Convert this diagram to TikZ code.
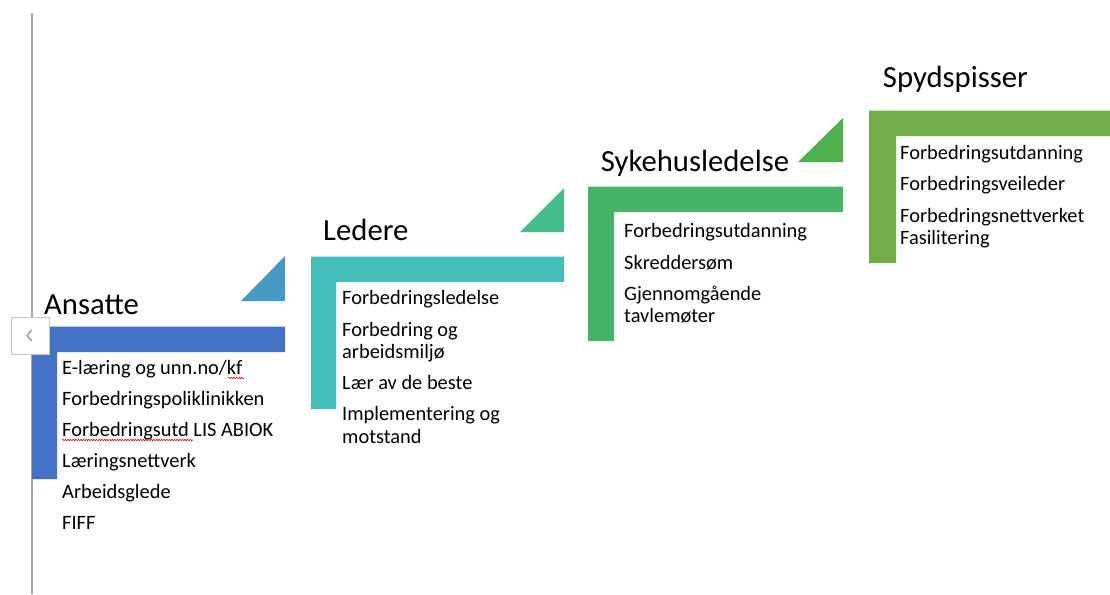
\documentclass[tikz,border=0pt]{standalone}
\usepackage{fontspec}
\setmainfont{Carlito}
\usetikzlibrary{positioning,decorations.pathmorphing}
\usepackage{xcolor}

\definecolor{ansblue}{HTML}{4472C4}
\definecolor{ansTri}{HTML}{4599C3}
\definecolor{ledTeal}{HTML}{43BEBA}
\definecolor{ledTri}{HTML}{47BD8E}
\definecolor{sykGreen}{HTML}{45B466}
\definecolor{sykTri}{HTML}{4DAF4D}
\definecolor{spyGreen}{HTML}{70AD47}

\begin{document}
\begin{tikzpicture}[
  x=1pt, y=-1pt,
  head/.style={anchor=base west, inner sep=0pt, font=\fontsize{30.7}{36}\selectfont},
  item/.style={anchor=base west, inner sep=0pt, align=left, font=\fontsize{20.4}{22.2}\selectfont},
  squig/.style={draw=red!85!black, line width=0.6pt, decorate, decoration={snake, amplitude=0.7pt, segment length=2.6pt}},
  navbox/.style={draw=black!22, fill=white, line width=0.8pt, minimum width=38pt, minimum height=37pt, inner sep=0pt}
]
\useasboundingbox (0,0) rectangle (1110,594);

% sidebar line
\draw[black!35, line width=1.2pt] (32,13) -- (32,594);

% steps
\fill[ansblue] (32,326.5) -- (285,326.5) -- (285,352) -- (57,352) -- (57,479) -- (32,479) -- cycle;
\fill[ansTri] (241,301) -- (285,301) -- (285,256) -- cycle;
\fill[ledTeal] (311,256.7) -- (564,256.7) -- (564,282) -- (336,282) -- (336,409) -- (311,409) -- cycle;
\fill[ledTri] (520,232) -- (564,232) -- (564,188) -- cycle;
\fill[sykGreen] (588,186.7) -- (843,186.7) -- (843,212) -- (614,212) -- (614,341) -- (588,341) -- cycle;
\fill[sykTri] (798,162) -- (843,162) -- (843,118) -- cycle;
\fill[spyGreen] (869,110.7) -- (1110,110.7) -- (1110,136) -- (896,136) -- (896,263) -- (869,263) -- cycle;

\node[navbox] (nav) at (30,335.5) {};
\draw[black!40, line width=1.4pt] ([shift={(1.5,-5.5)}]nav.center) -- ([shift={(-3,0)}]nav.center) -- ([shift={(1.5,5.5)}]nav.center);

% Ansatte
\node[head] (ans) at (44,314) {Ansatte};
\node[item] (a1) at (62,374.3) {E-læring og unn.no/kf};
\node[item] (a2) at (62,405) {Forbedringspoliklinikken};
\node[item] (a3) at (62,436) {Forbedringsutd LIS ABIOK};
\node[item] (a4) at (62,467.3) {Læringsnettverk};
\node[item] (a5) at (62,498.3) {Arbeidsglede};
\node[item] (a6) at (62,529.3) {FIFF};
\draw[squig] (228,378) -- (244,378);
\draw[squig] (62,440) -- (193,440);

% Ledere
\node[head] (led) at (323,240) {Ledere};
\node[item] (l1) at (342,304) {Forbedringsledelse};
\node[item] (l2) at (342,358.5) {Forbedring og\\arbeidsmiljø};
\node[item] (l3) at (342,389) {Lær av de beste};
\node[item] (l4) at (342,443) {Implementering og\\motstand};

% Sykehusledelse
\node[head] (syk) at (600.7,171.7) {Sykehusledelse};
\node[item] (s1) at (624,237.3) {Forbedringsutdanning};
\node[item] (s2) at (624,269) {Skreddersøm};
\node[item] (s3) at (624,322.5) {Gjennomgående\\tavlemøter};

% Spydspisser
\node[head] (spy) at (882.7,87.3) {Spydspisser};
\node[item] (p1) at (900,159.3) {Forbedringsutdanning};
\node[item] (p2) at (900,190) {Forbedringsveileder};
\node[item] (p3) at (900,244.5) {Forbedringsnettverket\\Fasilitering};
\end{tikzpicture}
\end{document}
